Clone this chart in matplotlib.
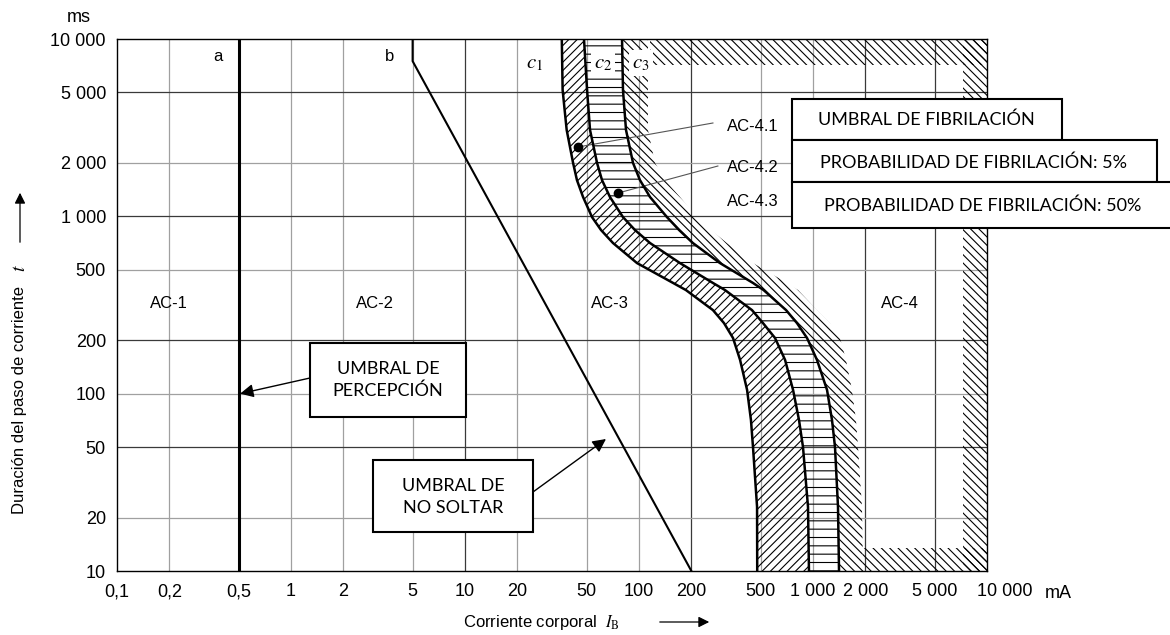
import matplotlib.pyplot as plt
from matplotlib.patches import Rectangle
from matplotlib.ticker import NullLocator

plt.rcParams['font.family'] = ['Liberation Sans', 'DejaVu Sans']
plt.rcParams['mathtext.fontset'] = 'stix'
plt.rcParams['hatch.linewidth'] = 0.8

W, H = 1170, 635

# axis ticks
x_ticks = [0.1, 0.2, 0.5, 1, 2, 5, 10, 20, 50, 100, 200, 500, 1000, 2000, 5000, 10000]
x_tick_labels = ['0,1', '0,2', '0,5', '1', '2', '5', '10', '20', '50', '100', '200',
                 '500', '1 000', '2 000', '5 000', '10 000']
y_ticks = [10, 20, 50, 100, 200, 500, 1000, 2000, 5000, 10000]
y_tick_labels = ['10', '20', '50', '100', '200', '500', '1 000', '2 000', '5 000', '10 000']

# curves c1, c2, c3 and outer edge of the c3 band, read at common times (ms)
t_curve = [10000, 5150, 3070, 2000, 1600, 1285, 990, 837, 707, 545, 421, 384, 296, 250,
           206, 155, 105, 71, 50, 23, 10]
c1_ma = [36, 36.4, 38.4, 41.8, 44.0, 47.7, 53.7, 60.5, 70.9, 97.4, 157, 186, 266, 308,
         347, 381, 418, 440, 452, 477, 478]
c2_ma = [48.3, 50.3, 52.3, 57.4, 61.3, 68.1, 80.9, 94.8, 115.7, 172, 266, 312, 446, 516,
         605, 691, 768, 831, 876, 936, 948]
c3_ma = [79.9, 80.9, 84.2, 92.4, 101.3, 115.7, 144.8, 170, 204, 292, 452, 520, 700, 809,
         924, 1054, 1204, 1286, 1338, 1392, 1411]
c3_outer_ma = [112.6, 112.6, 112.6, 123.6, 141.1, 172, 215, 259, 320, 452, 709, 820, 1054,
               1252, 1430, 1548, 1675, 1766, 1814, 1912, 1939]

# threshold lines a and b
line_a_ma = [0.5, 0.5]
line_a_ms = [10, 10000]
line_b_ma = [5, 5, 200]
line_b_ms = [10000, 7500, 10]

# hatched frame around zone AC-4 (x range mA, y range ms)
frame_top = ([115, 10000], [7130, 10000])
frame_right = ([7280, 10000], [10, 10000])
frame_bottom = ([1939, 10000], [10, 13.5])

# points AC-4.1 / AC-4.2 and ends of their leader lines
dots_ma = [44.6, 75.7]
dots_ms = [2460, 1353]
leader_ma = [266, 284]
leader_ms = [3360, 1922]

dark_x = [10, 200, 2000, 5000]
dark_y = [5000, 1000, 200, 50]


def fx(p):
    return p / W


def fy(p):
    return 1 - p / H


fig = plt.figure(figsize=(W / 100, H / 100), dpi=100)
ax = fig.add_axes([fx(117), fy(571), (987 - 117) / W, (571 - 39) / H])
ax.set_xscale('log')
ax.set_yscale('log')
ax.set_xlim(0.1, 10000)
ax.set_ylim(10, 10000)

# grid
for v in x_ticks[1:-1]:
    if v == 0.5:
        continue
    c = '#3a3a3a' if v in dark_x else '#a0a0a0'
    ax.axvline(v, color=c, lw=0.9, zorder=0)
for v in y_ticks[1:-1]:
    c = '#3a3a3a' if v in dark_y else '#a0a0a0'
    ax.axhline(v, color=c, lw=0.9, zorder=0)

# hatched bands
ax.fill_betweenx(t_curve, c1_ma, c2_ma, hatch='////', facecolor='none', edgecolor='k', lw=0, zorder=1)
ax.fill_betweenx(t_curve, c2_ma, c3_ma, hatch='--', facecolor='none', edgecolor='k', lw=0, zorder=1)
ax.fill_betweenx(t_curve, c3_ma, c3_outer_ma, hatch='\\\\\\\\', facecolor='none', edgecolor='k', lw=0, zorder=1)
for (xs, ys) in [frame_top, frame_right, frame_bottom]:
    ax.fill_between(xs, ys[0], ys[1], hatch='\\\\\\\\', facecolor='none', edgecolor='k', lw=0, zorder=1)

# curves and lines
for cx in [c1_ma, c2_ma, c3_ma]:
    ax.plot(cx, t_curve, color='k', lw=1.8, zorder=3)
ax.plot(line_a_ma, line_a_ms, color='k', lw=2.2, zorder=3)
ax.plot(line_b_ma, line_b_ms, color='k', lw=1.5, zorder=3)

for i in range(2):
    ax.plot([leader_ma[i], dots_ma[i]], [leader_ms[i], dots_ms[i]], color='#555555', lw=0.8, zorder=2)
ax.plot(dots_ma, dots_ms, 'o', color='k', ms=6, zorder=4)

# zone labels
fs = 12
ax.text(0.38, 7920, 'a', fontsize=fs, ha='center', va='center')
ax.text(3.7, 7920, 'b', fontsize=fs, ha='center', va='center')
ax.text(25.2, 7320, r'$c_1$', fontsize=15, ha='center', va='center')
ax.text(62, 7320, r'$c_2$', fontsize=15, ha='center', va='center', zorder=5,
        bbox=dict(boxstyle='square,pad=0.15', fc='white', ec='none'))
ax.text(102.7, 7320, r'$c_3$', fontsize=15, ha='center', va='center', zorder=5,
        bbox=dict(boxstyle='square,pad=0.15', fc='white', ec='none'))
ax.text(0.2, 324, 'AC-1', fontsize=fs, ha='center', va='center')
ax.text(3.04, 324, 'AC-2', fontsize=fs, ha='center', va='center')
ax.text(68, 324, 'AC-3', fontsize=fs, ha='center', va='center')
ax.text(3162, 324, 'AC-4', fontsize=fs, ha='center', va='center')
ax.text(452, 3190, 'AC-4.1', fontsize=fs, ha='center', va='center')
ax.text(452, 1897, 'AC-4.2', fontsize=fs, ha='center', va='center')
ax.text(452, 1205, 'AC-4.3', fontsize=fs, ha='center', va='center')

# ticks
ax.xaxis.set_minor_locator(NullLocator())
ax.yaxis.set_minor_locator(NullLocator())
ax.set_xticks(x_ticks)
ax.set_xticklabels(x_tick_labels[:-1] + [''])
ax.set_yticks(y_ticks)
ax.set_yticklabels(y_tick_labels)
ax.tick_params(length=0, labelsize=13)
ax.tick_params(axis='x', pad=9)
ax.tick_params(axis='y', pad=8)
for s in ax.spines.values():
    s.set_linewidth(1.0)
ax.annotate(x_tick_labels[-1], xy=(10000, 0), xycoords=('data', 'axes fraction'),
            xytext=(18 * 0.72, -21 * 0.72), textcoords='offset points',
            ha='center', va='center', fontsize=13, annotation_clip=False)
fig.text(fx(1058), fy(593), 'mA', fontsize=13, ha='center', va='center')
fig.text(fx(79), fy(18), 'ms', fontsize=13, ha='center', va='center')

# axis titles with arrows
fig.text(fx(20), fy(400), 'Duración del paso de corriente', rotation=90, fontsize=12,
         ha='center', va='center')
fig.text(fx(20), fy(268), r'$t$', rotation=90, fontsize=14, ha='center', va='center')
ax.annotate('', xy=(fx(20), fy(190)), xytext=(fx(20), fy(245)), xycoords='figure fraction',
            arrowprops=dict(arrowstyle='-|>', color='k', lw=0.9, mutation_scale=16))
fig.text(fx(463), fy(622), r'Corriente corporal  $I_\mathrm{B}$', fontsize=12,
         ha='left', va='center')
ax.annotate('', xy=(fx(712), fy(622)), xytext=(fx(657), fy(622)), xycoords='figure fraction',
            arrowprops=dict(arrowstyle='-|>', color='k', lw=0.9, mutation_scale=16))

# callout boxes
box_font = ['Lato', 'DejaVu Sans']


def box(x0, y0, x1, y1):
    r = Rectangle((fx(x0), fy(y1)), (x1 - x0) / W, (y1 - y0) / H, transform=fig.transFigure,
                  fc='white', ec='k', lw=1.5, zorder=10, clip_on=False)
    fig.add_artist(r)


box(792, 99, 1062, 140)
box(792, 140, 1157, 182)
box(792, 182, 1180, 228)
fig.text(fx(926), fy(120), 'UMBRAL DE FIBRILACIÓN', family=box_font, fontsize=13,
         ha='center', va='center', zorder=11)
fig.text(fx(974), fy(163), 'PROBABILIDAD DE FIBRILACIÓN: 5%', family=box_font, fontsize=13,
         ha='center', va='center', zorder=11)
fig.text(fx(983), fy(206), 'PROBABILIDAD DE FIBRILACIÓN: 50%', family=box_font, fontsize=13,
         ha='center', va='center', zorder=11)

box(310, 343, 466, 417)
fig.text(fx(388), fy(380), 'UMBRAL DE\nPERCEPCIÓN', family=box_font, fontsize=13,
         ha='center', va='center', linespacing=1.4, zorder=11)
ax.annotate('', xy=(0.51, 100), xycoords='data', xytext=(fx(310), fy(378)),
            textcoords='figure fraction',
            arrowprops=dict(arrowstyle='-|>', color='k', lw=1.0, mutation_scale=20,
                            shrinkA=0, shrinkB=0), zorder=9)

box(373, 460, 533, 532)
fig.text(fx(453), fy(497), 'UMBRAL DE\nNO SOLTAR', family=box_font, fontsize=13,
         ha='center', va='center', linespacing=1.4, zorder=11)
ax.annotate('', xy=(64.6, 55.5), xycoords='data', xytext=(fx(533), fy(492)),
            textcoords='figure fraction',
            arrowprops=dict(arrowstyle='-|>', color='k', lw=1.0, mutation_scale=20,
                            shrinkA=0, shrinkB=0), zorder=9)

fig.savefig('out.png', dpi=100)
